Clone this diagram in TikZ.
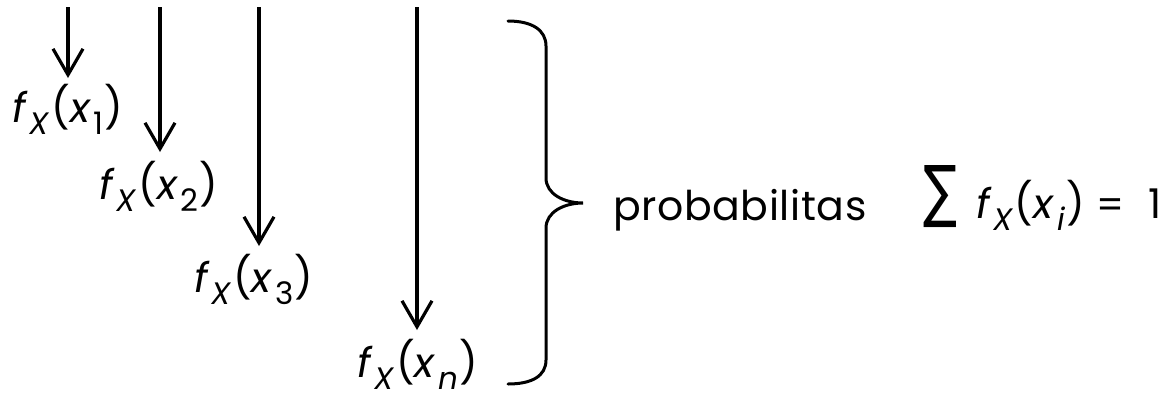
\documentclass[tikz,border=0pt]{standalone}
\usepackage{fontspec}
\setmainfont{Poppins}[LetterSpace=1.5]
\newfontfamily\sumfont{DejaVu Sans}
\usetikzlibrary{arrows.meta}
\newcommand{\lowsub}[1]{\raisebox{-12pt}{\fontsize{31}{34}\selectfont #1}}
\newcommand{\fxlabel}[1]{\textit{f}\kern1pt\lowsub{\textit{X}}\kern1pt(\textit{x}\kern2pt\lowsub{#1}\kern1pt)}
\begin{document}
\begin{tikzpicture}[x=1pt,y=-1pt,
  arr/.style={line width=3.2pt,-{Straight Barb[length=26pt,width=30pt]}},
  lbl/.style={inner sep=0pt,anchor=base,font=\fontsize{41}{46}\selectfont},
  txt/.style={inner sep=0pt,anchor=base west,font=\fontsize{41}{46}\selectfont},
  bracestyle/.style={line width=3pt,line cap=round}]
\useasboundingbox (0,0) rectangle (1163,400);
% arrows
\coordinate (t1) at (68,7);   \coordinate (h1) at (68,78);
\coordinate (t2) at (160,7);  \coordinate (h2) at (160,152);
\coordinate (t3) at (259,7);  \coordinate (h3) at (259,246);
\coordinate (tn) at (417,7);  \coordinate (hn) at (417,330);
\draw[arr] (t1) -- (h1);
\draw[arr] (t2) -- (h2);
\draw[arr] (t3) -- (h3);
\draw[arr] (tn) -- (hn);
% labels
\node[lbl] (l1) at (68,122) {\fxlabel{1}};
\node[lbl] (l2) at (159,199) {\fxlabel{2}};
\node[lbl] (l3) at (254,292) {\fxlabel{3}};
\node[lbl] (ln) at (418,377) {\fxlabel{\textit{n}}};
% brace
\draw[bracestyle] (508,21) .. controls (532,21) and (546,30) .. (546,46)
  -- (546,178) .. controls (546,194) and (564,203) .. (583,203)
  .. controls (564,203) and (546,212) .. (546,228)
  -- (546,360) .. controls (546,376) and (532,384) .. (508,384);
% texts
\node[txt] (prob) at (613,220) {probabilitas};
\node[inner sep=0pt,anchor=south west] (sum) at (923,228) {\resizebox{34pt}{49pt}{\sumfont ∑}};
\node[txt] (eq) at (976,218) {\textit{f}\kern1pt\lowsub{\textit{X}}\kern1pt(\textit{x}\kern2pt\lowsub{\textit{i}}\kern1pt)};
\node[txt] (eqs) at (1096,218) {\resizebox{28pt}{!}{=}};
\node[txt] (one) at (1148,218) {1};
\end{tikzpicture}
\end{document}
